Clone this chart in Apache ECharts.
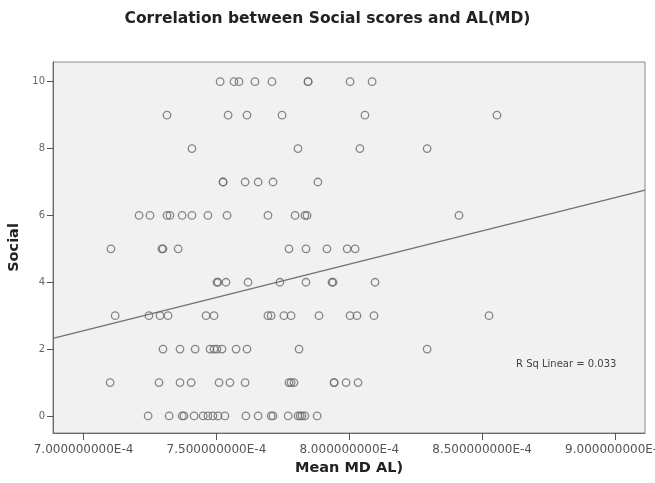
<!DOCTYPE html>
<html>
<head>
<meta charset="utf-8">
<style>
  html, body { margin: 0; padding: 0; background: #ffffff; }
  #chart { width: 655px; height: 483px; }
</style>
<script src="https://cdn.jsdelivr.net/npm/echarts@6/dist/echarts.min.js"></script>
</head>
<body>
<div id="chart"></div>
<script>
// Mean MD AL values (in units of 1E-4) for each Social score
const MD_UNIT = 1e-4;
const socialScores = [0, 1, 2, 3, 4, 5, 6, 7, 8, 9, 10];
const mdScore0  = [7.243, 7.322, 7.371, 7.378, 7.416, 7.450, 7.468, 7.487, 7.506, 7.532, 7.611, 7.657, 7.706, 7.713, 7.770, 7.807, 7.815, 7.822, 7.833, 7.879];
const mdScore1  = [7.100, 7.284, 7.363, 7.405, 7.510, 7.551, 7.608, 7.773, 7.781, 7.792, 7.943, 7.943, 7.988, 8.033];
const mdScore2  = [7.299, 7.363, 7.420, 7.476, 7.491, 7.502, 7.521, 7.574, 7.615, 7.811, 8.293];
const mdScore3  = [7.119, 7.246, 7.288, 7.318, 7.461, 7.491, 7.694, 7.706, 7.754, 7.781, 7.886, 8.003, 8.029, 8.093, 8.526];
const mdScore4  = [7.502, 7.506, 7.536, 7.619, 7.739, 7.837, 7.935, 7.939, 8.097];
const mdScore5  = [7.103, 7.295, 7.299, 7.356, 7.773, 7.837, 7.916, 7.992, 8.022];
const mdScore6  = [7.209, 7.250, 7.314, 7.325, 7.371, 7.408, 7.468, 7.540, 7.694, 7.796, 7.833, 7.841, 8.413];
const mdScore7  = [7.525, 7.525, 7.608, 7.657, 7.713, 7.882];
const mdScore8  = [7.408, 7.807, 8.040, 8.293];
const mdScore9  = [7.314, 7.544, 7.615, 7.747, 8.059, 8.556];
const mdScore10 = [7.514, 7.566, 7.585, 7.645, 7.709, 7.845, 7.845, 8.003, 8.086];
const mdByScore = [mdScore0, mdScore1, mdScore2, mdScore3, mdScore4, mdScore5,
                   mdScore6, mdScore7, mdScore8, mdScore9, mdScore10];

// Linear fit: Social = fitIntercept + fitSlope * MD
const fitIntercept = -11.385;
const fitSlope = 19910;
const rSqLinear = 0.033;

// Axis ranges and tick labels
const xMin = 6.885e-4, xMax = 9.113e-4;
const yMin = -0.51, yMax = 10.59;
const xTickValues = [7.0e-4, 7.5e-4, 8.0e-4, 8.5e-4, 9.0e-4];
const yTickValues = [0, 2, 4, 6, 8, 10];

const points = [];
socialScores.forEach((s, i) => {
  mdByScore[i].forEach(v => points.push([v * MD_UNIT, s]));
});
const fitLine = [xMin, xMax].map(x => [x, fitIntercept + fitSlope * x]);

const FONT = 'DejaVu Sans';
const chart = echarts.init(document.getElementById('chart'), null, { renderer: 'canvas' });
chart.setOption({
  animation: false,
  backgroundColor: '#ffffff',
  title: {
    text: 'Correlation between Social scores and AL(MD)',
    left: 'center',
    top: 6,
    textStyle: { fontFamily: FONT, fontSize: 15.5, fontWeight: 'bold', color: '#222222' }
  },
  grid: {
    left: 53, right: 10, top: 62, bottom: 50,
    outerBoundsMode: 'none',
    containLabel: false,
    show: true,
    backgroundColor: '#f1f1f1',
    borderColor: '#8a8a8a',
    borderWidth: 1
  },
  xAxis: {
    type: 'value',
    min: xMin, max: xMax,
    name: 'Mean MD AL)',
    nameLocation: 'middle',
    nameGap: 24,
    nameTextStyle: { fontFamily: FONT, fontSize: 14.5, fontWeight: 'bold', color: '#222222' },
    axisLine: { show: true, onZero: false, lineStyle: { color: '#6a6a6a', width: 1 } },
    axisTick: { show: true, length: 7, customValues: xTickValues, lineStyle: { color: '#555555' } },
    axisLabel: {
      customValues: xTickValues,
      margin: 11,
      fontFamily: FONT, fontSize: 12, color: '#555555',
      formatter: v => (v / MD_UNIT).toFixed(9) + 'E-4'
    },
    splitLine: { show: false }
  },
  yAxis: {
    type: 'value',
    min: yMin, max: yMax,
    name: 'Social',
    nameLocation: 'middle',
    nameGap: 30,
    nameTextStyle: { fontFamily: FONT, fontSize: 14.5, fontWeight: 'bold', color: '#222222' },
    axisLine: { show: true, onZero: false, lineStyle: { color: '#6a6a6a', width: 1 } },
    axisTick: { show: true, length: 6, customValues: yTickValues, lineStyle: { color: '#555555' } },
    axisLabel: {
      customValues: yTickValues,
      margin: 8,
      fontFamily: FONT, fontSize: 10, color: '#666666'
    },
    splitLine: { show: false }
  },
  series: [
    {
      type: 'scatter',
      data: points,
      symbol: 'circle',
      symbolSize: 7.5,
      itemStyle: { color: 'rgba(0,0,0,0)', borderColor: '#6a6a6a', borderWidth: 1.3 },
      z: 3
    },
    {
      type: 'line',
      data: fitLine,
      showSymbol: false,
      symbol: 'none',
      lineStyle: { color: '#707070', width: 1.2 },
      z: 2,
      silent: true
    }
  ],
  graphic: [
    {
      type: 'text',
      left: 516,
      top: 359,
      style: {
        text: 'R Sq Linear = ' + rSqLinear.toFixed(3),
        fontFamily: FONT,
        fontSize: 10,
        fill: '#444444'
      }
    }
  ]
});
</script>
</body>
</html>
